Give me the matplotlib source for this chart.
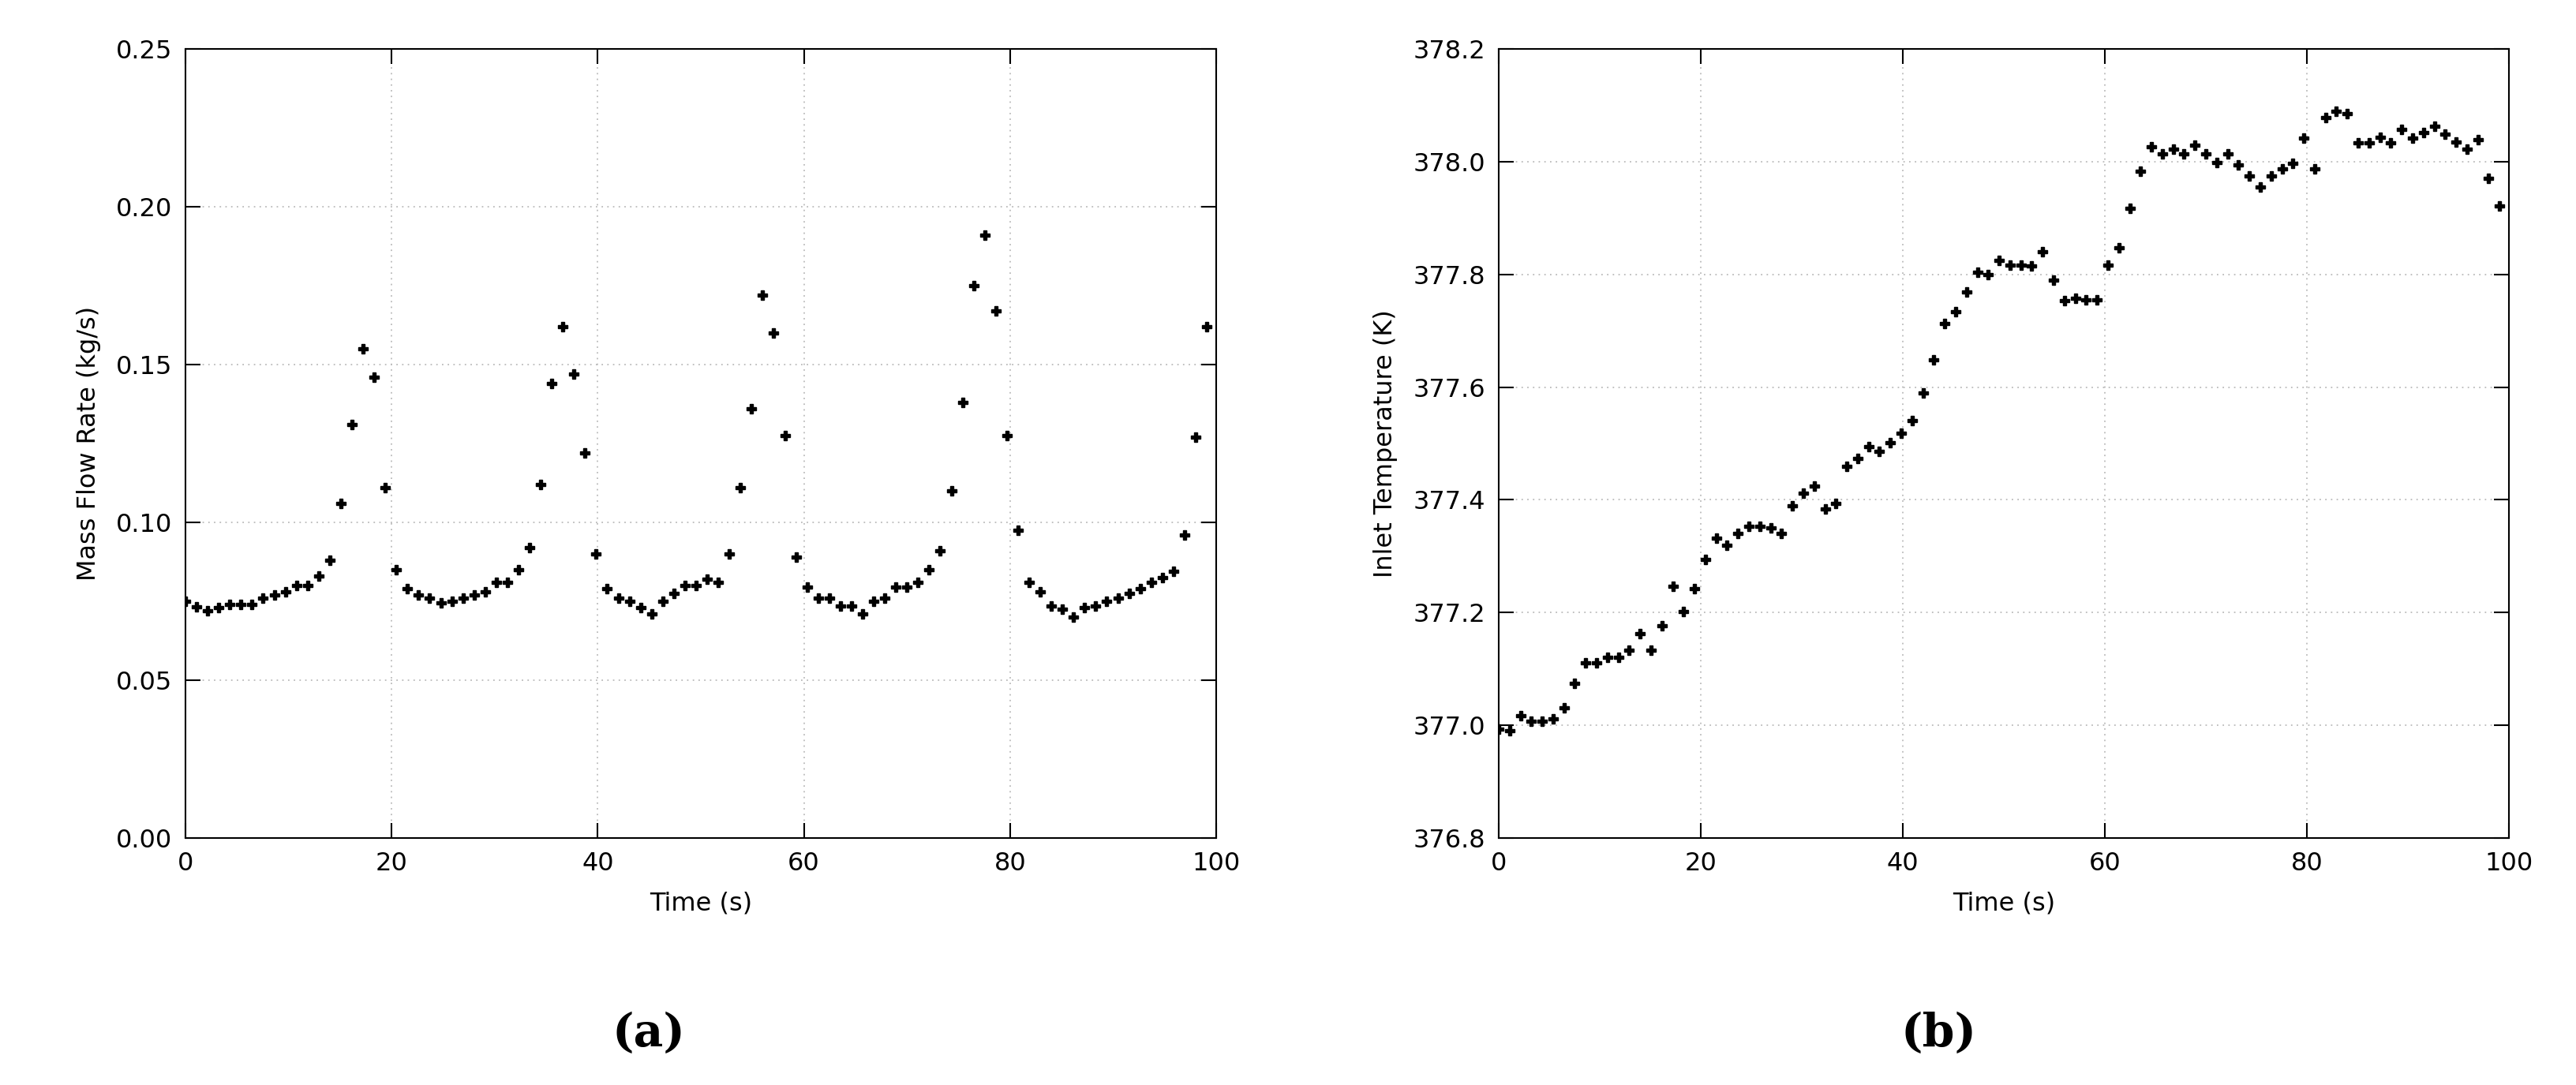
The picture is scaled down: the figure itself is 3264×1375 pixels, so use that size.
import numpy as np
import matplotlib
matplotlib.use("Agg")
import matplotlib.pyplot as plt
from matplotlib.ticker import FormatStrFormatter

mass_flow = [0.075,0.0733,0.072,0.073,0.074,0.074,0.074,0.076,0.077,0.078,0.080,0.080,0.083,0.088,
             0.106,0.131,0.155,0.146,0.111,0.085,0.079,0.077,0.076,0.0745,0.075,0.076,0.077,0.078,
             0.081,0.081,0.085,0.092,0.112,0.144,0.162,0.147,0.122,0.090,0.079,0.076,0.075,0.073,
             0.071,0.075,0.0775,0.080,0.080,0.082,0.081,0.090,0.111,0.136,0.172,0.160,0.1275,0.089,
             0.0795,0.076,0.076,0.0735,0.0735,0.071,0.075,0.076,0.0795,0.0795,0.081,0.085,0.091,
             0.110,0.138,0.175,0.191,0.167,0.1275,0.0975,0.081,0.078,0.0735,0.0725,0.070,0.073,
             0.0735,0.075,0.076,0.0775,0.079,0.081,0.0825,0.0845,0.096,0.127,0.162]
inlet_temp = [376.993,376.99,377.017,377.007,377.007,377.011,377.031,377.074,377.111,377.111,
              377.121,377.121,377.133,377.163,377.133,377.176,377.246,377.202,377.243,377.294,
              377.332,377.32,377.341,377.353,377.353,377.35,377.341,377.39,377.412,377.425,
              377.384,377.393,377.46,377.474,377.495,377.486,377.502,377.518,377.54,377.59,
              377.648,377.713,377.734,377.769,377.804,377.80,377.825,377.817,377.817,377.815,
              377.84,377.79,377.754,377.757,377.755,377.755,377.817,377.847,377.917,377.983,
              378.026,378.014,378.022,378.014,378.029,378.014,377.999,378.014,377.994,377.975,
              377.955,377.974,377.987,377.997,378.042,377.987,378.078,378.09,378.085,378.033,
              378.033,378.043,378.033,378.057,378.042,378.051,378.063,378.049,378.035,378.022,
              378.039,377.971,377.922]
dt = 1.077
t_a = np.arange(len(mass_flow)) * dt
t_b = np.arange(len(inlet_temp)) * dt

W, H = 3264, 1375
fig = plt.figure(figsize=(W/100, H/100), dpi=100)
axA = fig.add_axes([235/W, 1-1062/H, (1541-235)/W, 1000/H])
axB = fig.add_axes([1899/W, 1-1062/H, (3179-1899)/W, 1000/H])

def style(ax):
    ax.grid(True, linestyle=(0, (1, 3)), color='#bbbbbb', linewidth=1.3)
    ax.tick_params(direction='in', top=True, right=True, length=14, width=1.5, labelsize=23, pad=12)
    for s in ax.spines.values():
        s.set_linewidth(1.5)
    ax.set_xlim(0, 100)
    ax.set_xticks(range(0, 101, 20))
    ax.set_xlabel('Time (s)', fontsize=23, labelpad=14)

axA.plot(t_a, mass_flow, 'P', color='black', markersize=9)
axA.set_ylim(0, 0.25)
axA.set_yticks(np.arange(0, 0.2501, 0.05))
axA.yaxis.set_major_formatter(FormatStrFormatter('%.2f'))
axA.set_ylabel('Mass Flow Rate (kg/s)', fontsize=23, labelpad=14)
style(axA)

axB.plot(t_b, inlet_temp, 'P', color='black', markersize=9)
axB.set_ylim(376.8, 378.2)
axB.set_yticks(np.arange(376.8, 378.201, 0.2))
axB.yaxis.set_major_formatter(FormatStrFormatter('%.1f'))
axB.set_ylabel('Inlet Temperature (K)', fontsize=23, labelpad=14)
style(axB)

fig.text(822/W, 1-1310/H, '(a)', fontsize=42, family='DejaVu Serif', weight='bold', ha='center', va='center')
fig.text(2457/W, 1-1310/H, '(b)', fontsize=42, family='DejaVu Serif', weight='bold', ha='center', va='center')
fig.savefig('out.png', dpi=100)
